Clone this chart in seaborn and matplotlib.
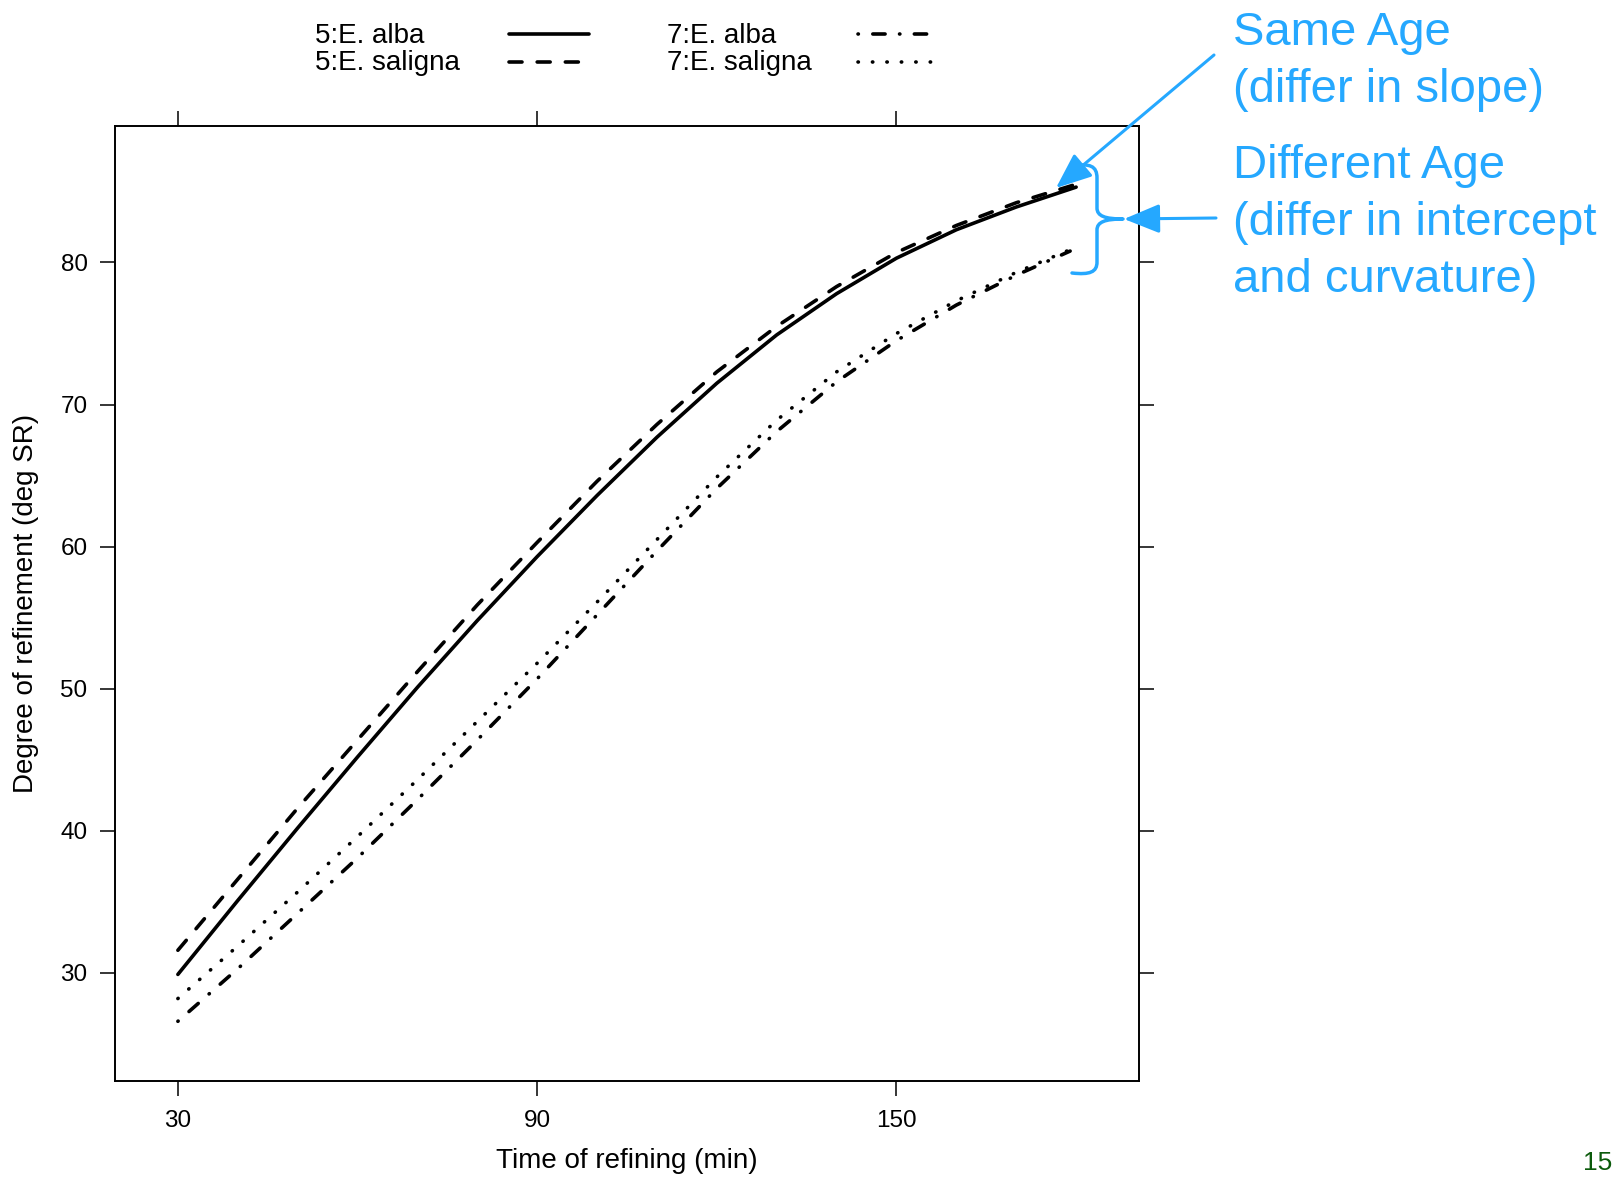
import numpy as np
import pandas as pd
import matplotlib.pyplot as plt
import seaborn as sns
from matplotlib.path import Path
from matplotlib.patches import PathPatch
from matplotlib.lines import Line2D

# values
time5 = [30, 40, 50, 60, 70, 80, 90, 100, 110, 120, 130, 140, 150, 160, 170, 180]
alba5 = [29.9, 35.1, 40.2, 45.2, 50.1, 54.8, 59.3, 63.6, 67.7, 71.5,
         74.9, 77.8, 80.3, 82.3, 83.9, 85.3]
saligna5 = [31.6, 36.6, 41.6, 46.4, 51.2, 55.9, 60.3, 64.6, 68.6, 72.3,
            75.5, 78.3, 80.7, 82.6, 84.2, 85.5]
time7 = [30, 40, 50, 60, 70, 80, 90, 100, 110, 120, 130, 140, 150, 160, 170, 179]
alba7 = [26.6, 30.3, 34.2, 38.1, 42.2, 46.4, 50.7, 55.2, 59.7, 64.1,
         68.1, 71.6, 74.5, 77.0, 79.1, 80.8]
saligna7 = [28.2, 31.9, 35.7, 39.6, 43.6, 47.7, 51.8, 56.1, 60.5, 64.9,
            68.9, 72.3, 75.0, 77.3, 79.3, 80.9]

labels = ["5:E. alba", "5:E. saligna", "7:E. alba", "7:E. saligna"]
x_ticks = [30, 90, 150]
y_ticks = [30, 40, 50, 60, 70, 80]

linestyles = {
    "5:E. alba": "-",
    "5:E. saligna": (0, (3.6, 4.2)),
    "7:E. alba": (0, (0.1, 4.0, 3.4, 4.0)),
    "7:E. saligna": (0, (0.1, 3.9)),
}

df = pd.concat([
    pd.DataFrame({"time": time5, "deg": alba5, "group": labels[0]}),
    pd.DataFrame({"time": time5, "deg": saligna5, "group": labels[1]}),
    pd.DataFrame({"time": time7, "deg": alba7, "group": labels[2]}),
    pd.DataFrame({"time": time7, "deg": saligna7, "group": labels[3]}),
])

sns.set_theme(style="ticks")
plt.rcParams["font.family"] = ["Liberation Sans", "DejaVu Sans"]

W, H = 1621, 1177
fig = plt.figure(figsize=(W / 100, H / 100), dpi=100)
ax = fig.add_axes([115 / W, 1 - 1081 / H, (1139 - 115) / W, (1081 - 126) / H])

for g in labels:
    sub = df[df["group"] == g]
    sns.lineplot(data=sub, x="time", y="deg", ax=ax, color="black", lw=2.6,
                 linestyle=linestyles[g], dash_capstyle="round",
                 solid_capstyle="round", legend=False)

ax.set_xlim(19.5, 190.5)
ax.set_ylim(22.4, 89.6)
ax.set_xticks(x_ticks)
ax.set_yticks(y_ticks)
ax.tick_params(direction="out", length=10.8, width=1.1, labelsize=17.5,
               top=True, right=True, labeltop=False, labelright=False,
               color="black", labelcolor="black")
ax.tick_params(axis="x", pad=10)
ax.tick_params(axis="y", pad=9)
for s in ax.spines.values():
    s.set_color("black")
    s.set_linewidth(1.4)

ax.set_xlabel("Time of refining (min)", fontsize=20, color="black")
ax.set_ylabel("Degree of refinement (deg SR)", fontsize=20, color="black")
ax.xaxis.set_label_coords(0.5, (1081 - 1161) / 955)
ax.xaxis.label.set_va("center")
ax.yaxis.set_label_coords((26 - 115) / 1024, 0.5)
ax.yaxis.label.set_va("center")

# overlay in pixel coordinates for the key and the annotations
ov = fig.add_axes([0, 0, 1, 1], facecolor="none")
ov.set_xlim(0, W)
ov.set_ylim(H, 0)
ov.axis("off")

# key at the top (text first, then the line sample)
key_pos = [(315, 43, 509, 589, 34), (315, 70, 509, 589, 62),
           (667, 43, 858, 936, 34), (667, 70, 858, 936, 62)]
for g, (tx, ty, x0, x1, ly) in zip(labels, key_pos):
    ov.text(tx, ty, g, fontsize=20, va="baseline", ha="left", color="black")
    ov.add_line(Line2D([x0, x1], [ly, ly], color="black", lw=2.6,
                       linestyle=linestyles[g], dash_capstyle="round",
                       solid_capstyle="round"))

blue = "#25A8FF"
notes = [("Same Age", 45), ("(differ in slope)", 102), ("Different Age", 178),
         ("(differ in intercept", 235), ("and curvature)", 292)]
for txt, by in notes:
    ov.text(1233, by, txt, fontsize=34, color=blue, va="baseline", ha="left")

arrow = dict(arrowstyle="-|>,head_length=2.2,head_width=0.9", color=blue,
             lw=2.2, mutation_scale=10, shrinkA=0, shrinkB=0)
ov.annotate("", xy=(1056, 188), xytext=(1214, 55), arrowprops=arrow)
ov.annotate("", xy=(1124, 219), xytext=(1216, 218), arrowprops=arrow)

verts = [(1072, 166), (1090, 163), (1097, 166), (1097, 178),
         (1097, 208),
         (1097, 216), (1105, 219), (1123, 219),
         (1105, 219), (1097, 222), (1097, 230),
         (1097, 262),
         (1097, 272), (1090, 275), (1072, 273)]
codes = [Path.MOVETO, Path.CURVE4, Path.CURVE4, Path.CURVE4,
         Path.LINETO,
         Path.CURVE4, Path.CURVE4, Path.CURVE4,
         Path.CURVE4, Path.CURVE4, Path.CURVE4,
         Path.LINETO,
         Path.CURVE4, Path.CURVE4, Path.CURVE4]
ov.add_patch(PathPatch(Path(verts, codes), facecolor="none", edgecolor=blue,
                       lw=2.5, capstyle="round", joinstyle="round"))

ov.text(1583, 1175, "15", fontsize=19, color="#0B5A0B", va="bottom", ha="left")

plt.savefig("out.png", dpi=100)
